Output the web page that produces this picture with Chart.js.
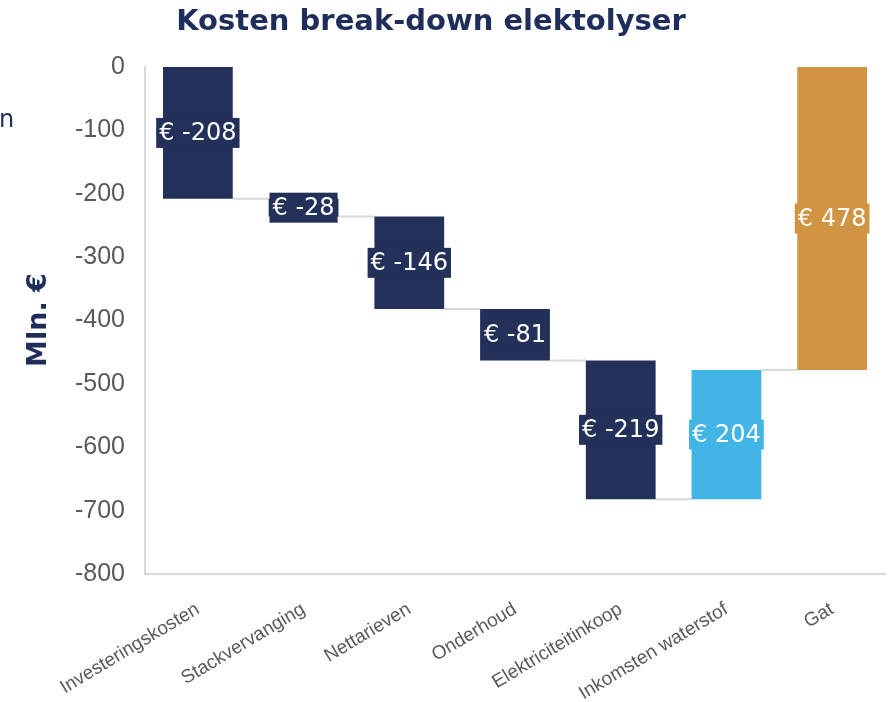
<!DOCTYPE html>
<html>
<head>
<meta charset="utf-8">
<script src="https://cdn.jsdelivr.net/npm/chart.js@4"></script>
<style>
    html, body { margin: 0; padding: 0; background: #ffffff; }
    #wrap { width: 890px; height: 702px; }
</style>
</head>
<body>
<div id="wrap"><canvas id="chart" width="890" height="702"></canvas></div>
<script>
// Data
const categories = ['Investeringskosten', 'Stackvervanging', 'Nettarieven', 'Onderhoud', 'Elektriciteitinkoop', 'Inkomsten waterstof', 'Gat'];
const deltas = [-208, -28, -146, -81, -219, 204, 478];
const barColors = ['#22305A', '#22305A', '#22305A', '#22305A', '#22305A', '#41B6E6', '#D09442'];
const yTicks = [0, -100, -200, -300, -400, -500, -600, -700, -800];

// Build floating bars from running total
const ranges = [];
let running = 0;
deltas.forEach(d => {
    ranges.push([running, running + d]);
    running += d;
});

const navy = '#1F2D5A';

// Connectors, value labels and extra texts
const waterfallPlugin = {
    id: 'waterfall',
    beforeDatasetsDraw(chart) {
        const ctx = chart.ctx;
        const meta = chart.getDatasetMeta(0);
        const y = chart.scales.y;
        ctx.save();
        ctx.strokeStyle = '#D9D9D9';
        ctx.lineWidth = 2;
        for (let i = 0; i < meta.data.length - 1; i++) {
            const a = meta.data[i];
            const b = meta.data[i + 1];
            const level = y.getPixelForValue(ranges[i][1]);
            ctx.beginPath();
            ctx.moveTo(a.x + a.width / 2, level);
            ctx.lineTo(b.x - b.width / 2, level);
            ctx.stroke();
        }
        ctx.restore();
    },
    afterDatasetsDraw(chart) {
        const ctx = chart.ctx;
        const meta = chart.getDatasetMeta(0);
        ctx.save();
        ctx.font = '24px "DejaVu Sans"';
        ctx.textAlign = 'center';
        ctx.textBaseline = 'middle';
        meta.data.forEach((bar, i) => {
            const text = '€ ' + deltas[i];
            const w = ctx.measureText(text).width + 6;
            const cy = (bar.y + bar.base) / 2;
            ctx.fillStyle = barColors[i];
            ctx.fillRect(bar.x - w / 2, cy - 15, w, 30);
            ctx.fillStyle = '#FFFFFF';
            ctx.fillText(text, bar.x, cy + 1);
        });
        ctx.restore();

        // title
        ctx.save();
        ctx.fillStyle = navy;
        ctx.font = 'bold 29px "DejaVu Sans"';
        ctx.textAlign = 'center';
        ctx.textBaseline = 'middle';
        ctx.fillText('Kosten break-down elektolyser', 431, 22);

        // y axis title
        ctx.translate(39, 320);
        ctx.rotate(-Math.PI / 2);
        ctx.font = 'bold 27px "DejaVu Sans"';
        ctx.fillText('Mln. €', 0, 0);
        ctx.restore();

        // cut-off text at the left edge
        ctx.save();
        ctx.fillStyle = navy;
        ctx.font = '24px "DejaVu Sans"';
        ctx.textAlign = 'left';
        ctx.textBaseline = 'middle';
        ctx.fillText('n', -1, 121);
        ctx.restore();
    }
};

const chart = new Chart(document.getElementById('chart'), {
    type: 'bar',
    data: {
        labels: categories,
        datasets: [{
            data: ranges,
            backgroundColor: barColors,
            borderWidth: 0,
            categoryPercentage: 1,
            barPercentage: 0.66
        }]
    },
    options: {
        responsive: false,
        animation: false,
        layout: { padding: { top: 67, left: 0, right: 5, bottom: 0 } },
        plugins: {
            legend: { display: false },
            tooltip: { enabled: false },
            title: { display: false }
        },
        scales: {
            y: {
                min: -800,
                max: 0,
                afterFit(scale) { scale.width = 145; },
                afterBuildTicks(scale) { scale.ticks = yTicks.map(v => ({ value: v })); },
                grid: { display: false },
                border: { display: true, color: '#D9D9D9', width: 2 },
                ticks: {
                    color: '#595959',
                    padding: 12,
                    font: { family: '"Liberation Sans"', size: 25 }
                }
            },
            x: {
                afterFit(scale) { scale.height = 128; },
                grid: { display: false },
                border: { display: true, color: '#D9D9D9', width: 2 },
                ticks: {
                    color: '#595959',
                    autoSkip: false,
                    minRotation: 31,
                    maxRotation: 31,
                    padding: 16,
                    font: { family: '"Liberation Sans"', size: 19 }
                }
            }
        }
    },
    plugins: [waterfallPlugin]
});
</script>
</body>
</html>
